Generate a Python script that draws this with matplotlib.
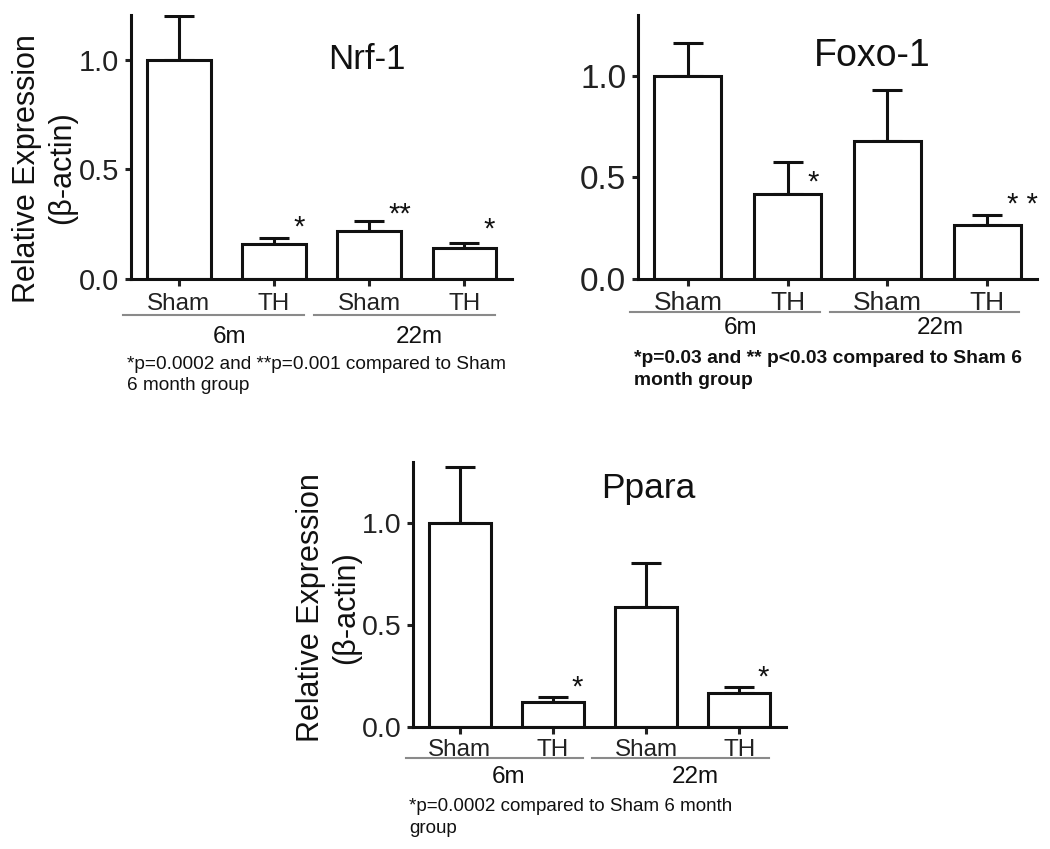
import matplotlib.pyplot as plt
import numpy as np

plt.rcParams['font.family'] = ['Liberation Sans', 'DejaVu Sans']

groups = ['Sham', 'TH', 'Sham', 'TH']
ages = ['6m', '22m']

nrf1_mean = [1.0, 0.16, 0.22, 0.14]
nrf1_sem = [0.20, 0.025, 0.045, 0.026]
nrf1_marks = ['', '*', '**', '*']

foxo1_mean = [1.0, 0.42, 0.68, 0.265]
foxo1_sem = [0.16, 0.155, 0.25, 0.05]
foxo1_marks = ['', '*', '', '* *']

ppara_mean = [1.0, 0.123, 0.587, 0.164]
ppara_sem = [0.274, 0.022, 0.217, 0.03]
ppara_marks = ['', '*', '', '*']

INK = '#111111'
GREY = '#8a8a8a'


def panel(fig, rect, title, mean, sem, marks, ymax, note, title_xy,
          star_dy, ytick_fs=21, xtick_fs=17.5, title_fs=25, note_fs=13.7,
          note_bold=False, note_y=-0.29, ylabel_xy=None, group_y=-0.135,
          age_y=-0.21, width=0.67, xpad=4):
    ax = fig.add_axes(rect)
    x = np.arange(len(mean))
    mean = np.array(mean)
    sem = np.array(sem)

    ax.bar(x, mean, width=width, color='white', edgecolor=INK,
           linewidth=2.2, zorder=2)
    ax.errorbar(x, mean, yerr=[np.zeros_like(sem), sem], fmt='none',
                ecolor=INK, elinewidth=2.2, capsize=11, capthick=2.2,
                zorder=1)

    for xi, top, m, dy in zip(x, mean + sem, marks, star_dy):
        if m:
            ax.text(xi + 0.2, top + dy, m, fontsize=21, ha='left',
                    va='center', color=INK)

    ax.set_xlim(-0.5, 3.5)
    ax.set_ylim(0, ymax)
    ax.set_yticks([0.0, 0.5, 1.0])
    ax.set_yticklabels(['0.0', '0.5', '1.0'])
    ax.set_xticks(x)
    ax.set_xticklabels(groups)
    for s in ['top', 'right']:
        ax.spines[s].set_visible(False)
    for s in ['left', 'bottom']:
        ax.spines[s].set_linewidth(2.2)
        ax.spines[s].set_color(INK)
    ax.tick_params(axis='y', labelsize=ytick_fs, width=2.2, length=4.5,
                   pad=4, colors='#222222')
    ax.tick_params(axis='x', labelsize=xtick_fs, width=2.2, length=5,
                   pad=xpad, colors='#222222')

    ax.text(title_xy[0], title_xy[1], title, transform=ax.transAxes,
            fontsize=title_fs, ha='center', va='center', color=INK)

    if ylabel_xy is not None:
        ax.set_ylabel('Relative Expression\n(\u03b2-actin)', fontsize=22,
                      color=INK, linespacing=1.22)
        ax.yaxis.set_label_coords(*ylabel_xy)

    # age group underlines
    trans = ax.get_xaxis_transform()
    for i, age in enumerate(ages):
        a, b = x[2 * i], x[2 * i + 1]
        ax.plot([a - 0.58, b + 0.32], [group_y, group_y], color=GREY,
                lw=1.5, transform=trans, clip_on=False)
        ax.text((a + b) / 2 + 0.03, age_y, age, transform=trans,
                fontsize=17.5, ha='center', va='center', color=INK)

    ax.text(-0.01, note_y, note, transform=ax.transAxes, fontsize=note_fs,
            ha='left', va='top', linespacing=1.35, color=INK,
            fontweight='bold' if note_bold else 'normal')
    return ax


fig = plt.figure(figsize=(10.5, 8.49), dpi=100)

panel(fig, [0.1248, 0.6714, 0.3629, 0.3110], 'Nrf-1',
      nrf1_mean, nrf1_sem, nrf1_marks, 1.205,
      '*p=0.0002 and **p=0.001 compared to Sham\n6 month group',
      (0.62, 0.83), [0, 0.05, 0.03, 0.06], ytick_fs=21, xtick_fs=17.5,
      title_fs=25, note_y=-0.29, ylabel_xy=(-0.142, 0.42), age_y=-0.22,
      xpad=5)

panel(fig, [0.6076, 0.6714, 0.3800, 0.3110], 'Foxo-1',
      foxo1_mean, foxo1_sem, foxo1_marks, 1.30,
      '*p=0.03 and ** p<0.03 compared to Sham 6\nmonth group',
      (0.586, 0.845), [0, -0.10, 0, 0.05], ytick_fs=24, xtick_fs=19,
      title_fs=27, note_fs=13.9, note_bold=True, note_y=-0.27,
      group_y=-0.125, age_y=-0.186)

panel(fig, [0.3933, 0.1441, 0.3552, 0.3117], 'Ppara',
      ppara_mean, ppara_sem, ppara_marks, 1.30,
      '*p=0.0002 compared to Sham 6 month\ngroup',
      (0.63, 0.90), [0, 0.045, 0, 0.045], ytick_fs=20.5, xtick_fs=17.5,
      title_fs=25.5, note_fs=13.5, note_y=-0.27, ylabel_xy=(-0.14, 0.45),
      group_y=-0.118, age_y=-0.19, width=0.665, xpad=4)

fig.savefig('out.png', dpi=100, facecolor='white')
